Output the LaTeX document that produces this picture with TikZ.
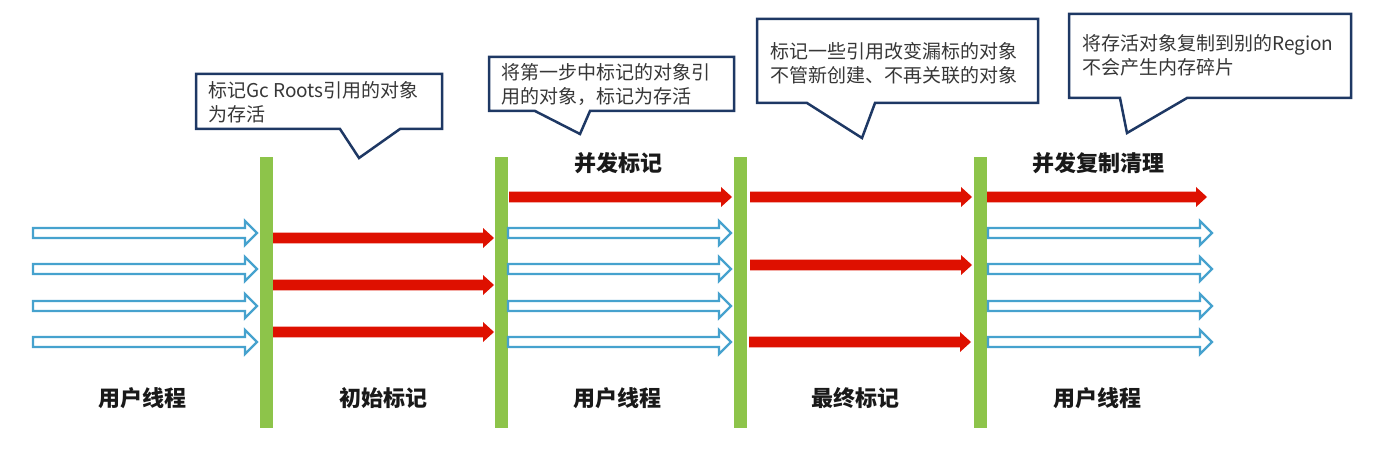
\documentclass[tikz,border=0pt]{standalone}
\usepackage{fontspec}
\newfontfamily\cjk{Noto Sans CJK SC}
\definecolor{barGreen}{RGB}{141,196,74}
\definecolor{arrRed}{RGB}{222,16,0}
\definecolor{arrBlue}{RGB}{70,162,206}
\definecolor{boxBlue}{RGB}{30,56,100}
\definecolor{txtGray}{RGB}{55,55,55}
\newcommand\hollowArr[3]{%
  \draw[bluearrow] (#1,#3-5) -- (#2-12,#3-5) -- (#2-12,#3-12) -- (#2,#3) -- (#2-12,#3+12) -- (#2-12,#3+5) -- (#1,#3+5) -- cycle;}
\newcommand\solidArr[3]{%
  \fill[redarrow] (#1,#3-5.3) -- (#2-11,#3-5.3) -- (#2-11,#3-10) -- (#2,#3) -- (#2-11,#3+10) -- (#2-11,#3+5.3) -- (#1,#3+5.3) -- cycle;}
\tikzset{
  bar/.style={fill=barGreen, draw=none, inner sep=0pt, minimum width=13pt, minimum height=271pt},
  bluearrow/.style={draw=arrBlue, line width=2.4pt, fill=white, line join=miter},
  redarrow/.style={fill=arrRed},
  calloutbox/.style={draw=boxBlue, line width=2.5pt, fill=white, line join=miter},
  boxtext/.style={anchor=north west, inner sep=0pt, align=left, text=txtGray,
    font=\cjk\fontsize{19}{23.5}\selectfont},
  phase/.style={inner sep=0pt, text=black!90, font=\cjk\bfseries\fontsize{22}{26}\selectfont}
}
\begin{document}
\begin{tikzpicture}[x=1pt,y=-1pt]
\useasboundingbox (0,0) rectangle (1389,449);
% green bars
\node[bar] (b1) at (266,292.5) {};
\node[bar] (b2) at (501,292.5) {};
\node[bar] (b3) at (740,292.5) {};
\node[bar] (b4) at (980,292.5) {};
% section 0: user threads
\hollowArr{33}{257}{233}
\hollowArr{33}{257}{269}
\hollowArr{33}{257}{306}
\hollowArr{33}{257}{342}
% section 1: initial mark
\solidArr{273}{494}{238}
\solidArr{273}{494}{285}
\solidArr{273}{494}{332}
% section 2: concurrent mark
\solidArr{509}{732}{197}
\hollowArr{508}{731}{233}
\hollowArr{508}{731}{269}
\hollowArr{508}{731}{306}
\hollowArr{508}{731}{342}
% section 3: final mark
\solidArr{750}{972}{197}
\solidArr{750}{972}{265}
\solidArr{749}{971}{342}
% section 4: concurrent copy
\solidArr{987}{1207}{197}
\hollowArr{988}{1212}{233}
\hollowArr{988}{1212}{269}
\hollowArr{988}{1212}{306}
\hollowArr{988}{1212}{342}
% callouts
\draw[calloutbox] (196,74) -- (442,74) -- (442,129) -- (400,129) -- (359,158) -- (340,129) -- (196,129) -- cycle;
\node[boxtext] (t1) at (208,81.5) {标记Gc Roots引用的对象\\为存活};
\draw[calloutbox] (489,57) -- (734,57) -- (734,111) -- (590,111) -- (580,134) -- (535,111) -- (489,111) -- cycle;
\node[boxtext] (t2) at (501,63.5) {将第一步中标记的对象引\\用的对象，标记为存活};
\draw[calloutbox] (757,19) -- (1038,19) -- (1038,103) -- (875,103) -- (862,138) -- (807,103) -- (757,103) -- cycle;
\node[boxtext] (t3) at (770,42.5) {标记一些引用改变漏标的对象\\不管新创建、不再关联的对象};
\draw[calloutbox] (1069,14) -- (1351,14) -- (1351,98) -- (1187,98) -- (1127,133) -- (1120,98) -- (1069,98) -- cycle;
\node[boxtext] (t4) at (1082,34.5) {将存活对象复制到别的Region\\不会产生内存碎片};
% phase labels
\node[phase] (p2) at (618,163) {并发标记};
\node[phase] (p4) at (1098,163) {并发复制清理};
\node[phase] (l0) at (142,398) {用户线程};
\node[phase] (l1) at (383,398) {初始标记};
\node[phase] (l2) at (617,398) {用户线程};
\node[phase] (l3) at (855,398) {最终标记};
\node[phase] (l4) at (1097,398) {用户线程};
\end{tikzpicture}
\end{document}
